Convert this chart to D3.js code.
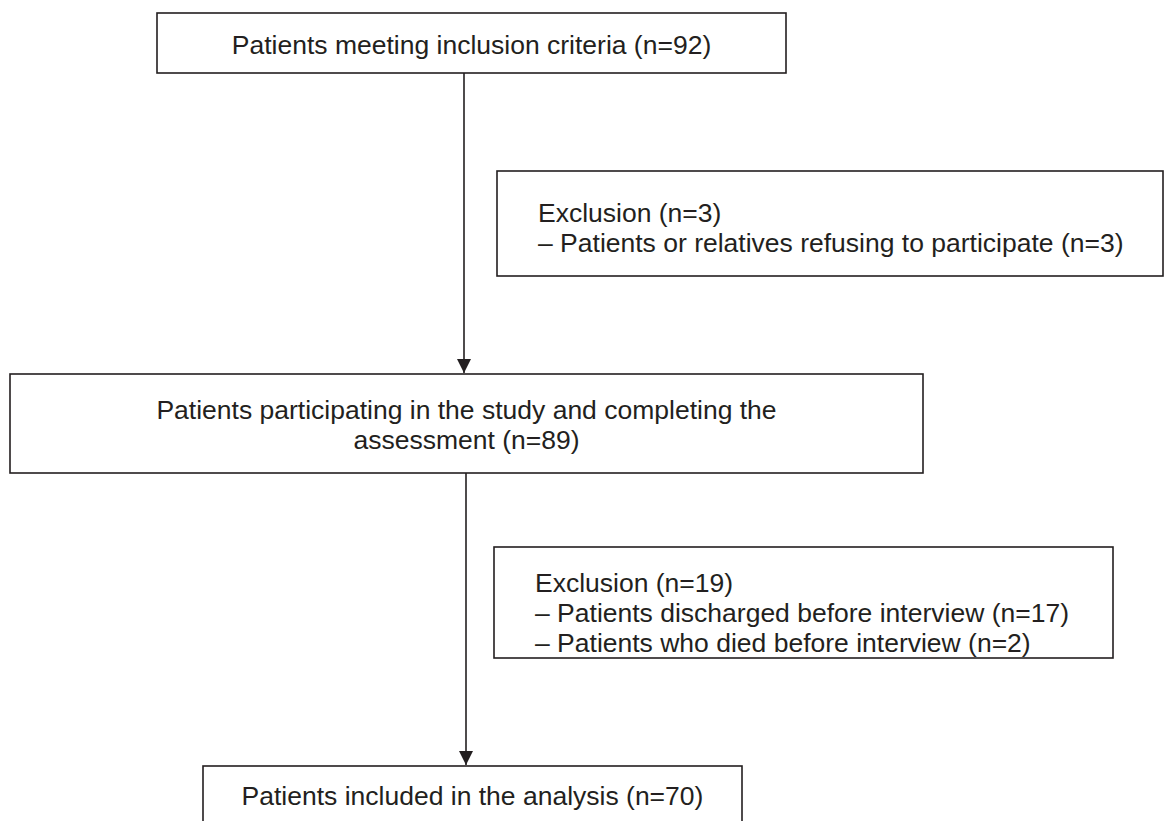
<!DOCTYPE html>
<html>
<head>
<meta charset="utf-8">
<script src="https://cdn.jsdelivr.net/npm/d3@7"></script>
<style>
  body { margin: 0; background: #fff; }
  text { font-family: "Liberation Sans", Arial, sans-serif; fill: #231f20; }
</style>
</head>
<body>
<script>
// flow counts and labels
var stageLabels = [
  ["Patients meeting inclusion criteria (n=92)"],
  ["Patients participating in the study and completing the", "assessment (n=89)"],
  ["Patients included in the analysis (n=70)"]
];
var exclusionLabels = [
  ["Exclusion (n=3)", "\u2013 Patients or relatives refusing to participate (n=3)"],
  ["Exclusion (n=19)", "\u2013 Patients discharged before interview (n=17)", "\u2013 Patients who died before interview (n=2)"]
];

var width = 1165, height = 821;
var ink = "#231f20";

// box geometry (layout only); ty = centre of first text line
var stageBoxes = [
  {x0: 157, x1: 786, y0: 13, y1: 73, ty: 45},
  {x0: 10, x1: 923, y0: 374, y1: 473, ty: 410},
  {x0: 203, x1: 742, y0: 766, y1: 826, ty: 796}
];
var exclBoxes = [
  {x0: 497, x1: 1163, y0: 171, y1: 276, ty: 213},
  {x0: 494, x1: 1113, y0: 547, y1: 658, ty: 583}
];
var arrowX = [464, 466];

var svg = d3.select("body").append("svg")
  .attr("width", width).attr("height", height);

svg.append("defs").append("marker")
  .attr("id", "head")
  .attr("viewBox", "0 0 14 14")
  .attr("refX", 14).attr("refY", 7)
  .attr("markerWidth", 14).attr("markerHeight", 14)
  .attr("markerUnits", "userSpaceOnUse")
  .attr("orient", "auto")
  .append("path")
  .attr("d", "M0,0L14,7L0,14Z")
  .attr("fill", ink);

// arrows between stages
svg.selectAll("line.flow").data(arrowX).enter()
  .append("line")
  .attr("class", "flow")
  .attr("x1", function(d){ return d; })
  .attr("x2", function(d){ return d; })
  .attr("y1", function(d,i){ return stageBoxes[i].y1; })
  .attr("y2", function(d,i){ return stageBoxes[i+1].y0 - 1; })
  .attr("stroke", ink).attr("stroke-width", 1.6)
  .attr("marker-end", "url(#head)");

var allBoxes = stageBoxes.concat(exclBoxes);
svg.selectAll("rect.box").data(allBoxes).enter()
  .append("rect")
  .attr("class", "box")
  .attr("x", function(d){ return d.x0; })
  .attr("y", function(d){ return d.y0; })
  .attr("width", function(d){ return d.x1 - d.x0; })
  .attr("height", function(d){ return d.y1 - d.y0; })
  .attr("fill", "none")
  .attr("stroke", ink).attr("stroke-width", 1.6);

var lineH = 30, fs = 26.5;

// centred stage text
stageLabels.forEach(function(lines, i){
  var b = stageBoxes[i];
  svg.append("g").selectAll("text").data(lines).enter()
    .append("text")
    .attr("x", (b.x0 + b.x1) / 2)
    .attr("y", function(d,j){ return b.ty + j * lineH; })
    .attr("dy", "0.35em")
    .attr("text-anchor", "middle")
    .style("font-size", fs + "px")
    .text(function(d){ return d; });
});

// left aligned exclusion text
exclusionLabels.forEach(function(lines, i){
  var b = exclBoxes[i];
  svg.append("g").selectAll("text").data(lines).enter()
    .append("text")
    .attr("x", b.x0 + 41)
    .attr("y", function(d,j){ return b.ty + j * lineH; })
    .attr("dy", "0.35em")
    .style("font-size", fs + "px")
    .text(function(d){ return d; });
});
</script>
</body>
</html>
